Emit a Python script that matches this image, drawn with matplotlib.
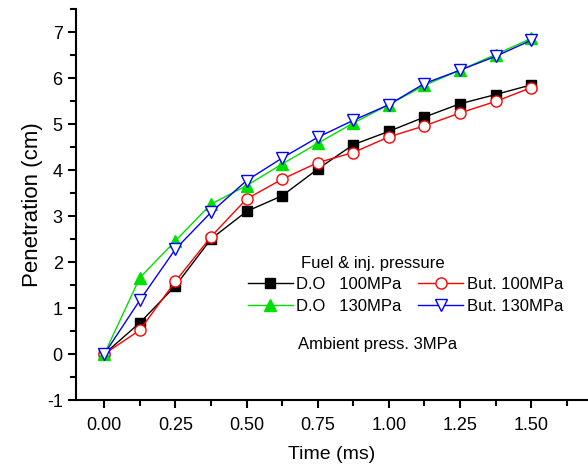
import matplotlib.pyplot as plt
from matplotlib.ticker import MultipleLocator

plt.rcParams['font.family'] = ['Liberation Sans', 'DejaVu Sans']
plt.rcParams['axes.unicode_minus'] = False

# time after start of injection (ms)
time_ms = [0, 0.125, 0.25, 0.375, 0.5, 0.625, 0.75, 0.875, 1.0, 1.125, 1.25, 1.375, 1.5]

# spray tip penetration (cm)
do_100 = [0, 0.68, 1.48, 2.5, 3.1, 3.44, 4.02, 4.55, 4.84, 5.15, 5.44, 5.64, 5.85]
but_100 = [0, 0.52, 1.58, 2.55, 3.37, 3.8, 4.16, 4.38, 4.72, 4.96, 5.24, 5.49, 5.79]
do_130 = [0, 1.66, 2.46, 3.26, 3.66, 4.13, 4.58, 5.02, 5.42, 5.84, 6.17, 6.51, 6.86]
but_130 = [0, 1.17, 2.28, 3.08, 3.77, 4.26, 4.71, 5.08, 5.42, 5.88, 6.17, 6.47, 6.82]

fig = plt.figure(figsize=(5.88, 4.69), dpi=100)
ax = fig.add_axes([0.129, 0.1471, 0.871, 0.8337])

l1, = ax.plot(time_ms, do_100, color='black', marker='s', ms=7, lw=1, label='D.O   100MPa')
l2, = ax.plot(time_ms, but_100, color='red', marker='o', ms=8, lw=1,
              mfc='white', mew=1, label='But. 100MPa')
l3, = ax.plot(time_ms, do_130, color='#00e000', marker='^', ms=8, lw=1, label='D.O   130MPa')
l4, = ax.plot(time_ms, but_130, color='blue', marker='v', ms=9, lw=1,
              mfc='white', mew=1, label='But. 130MPa')

ax.set_xlim(-0.1, 1.7)
ax.set_ylim(-1, 7.5)
ax.xaxis.set_major_locator(MultipleLocator(0.25))
ax.xaxis.set_minor_locator(MultipleLocator(0.125))
ax.yaxis.set_major_locator(MultipleLocator(1))
ax.yaxis.set_minor_locator(MultipleLocator(0.5))
ax.xaxis.set_major_formatter(plt.FormatStrFormatter('%.2f'))

for side in ['top', 'right']:
    ax.spines[side].set_visible(False)
for side in ['left', 'bottom']:
    ax.spines[side].set_linewidth(1.5)

ax.tick_params(which='major', direction='out', length=6, width=1.5, labelsize=13)
ax.tick_params(axis='x', which='major', pad=6)
ax.tick_params(which='minor', direction='out', length=4, width=1.5)

ax.set_xlabel('Time (ms)', fontsize=14, labelpad=9)
ax.set_ylabel('Penetration (cm)', fontsize=16, labelpad=3)

# row-wise order as in the original legend
ax.legend([l1, l3, l2, l4], [l1.get_label(), l3.get_label(), l2.get_label(), l4.get_label()],
          ncol=2, frameon=False, fontsize=12, loc='upper left',
          bbox_to_anchor=(0.505, 1.674), bbox_transform=ax.transData,
          borderpad=0, borderaxespad=0,
          handlelength=2.7, columnspacing=1.0, handletextpad=0.2,
          labelspacing=0.4)

ax.text(0.692, 1.957, 'Fuel & inj. pressure', fontsize=12, va='center')
ax.text(0.681, 0.196, 'Ambient press. 3MPa', fontsize=12, va='center')

fig.savefig('out.png', dpi=100)
